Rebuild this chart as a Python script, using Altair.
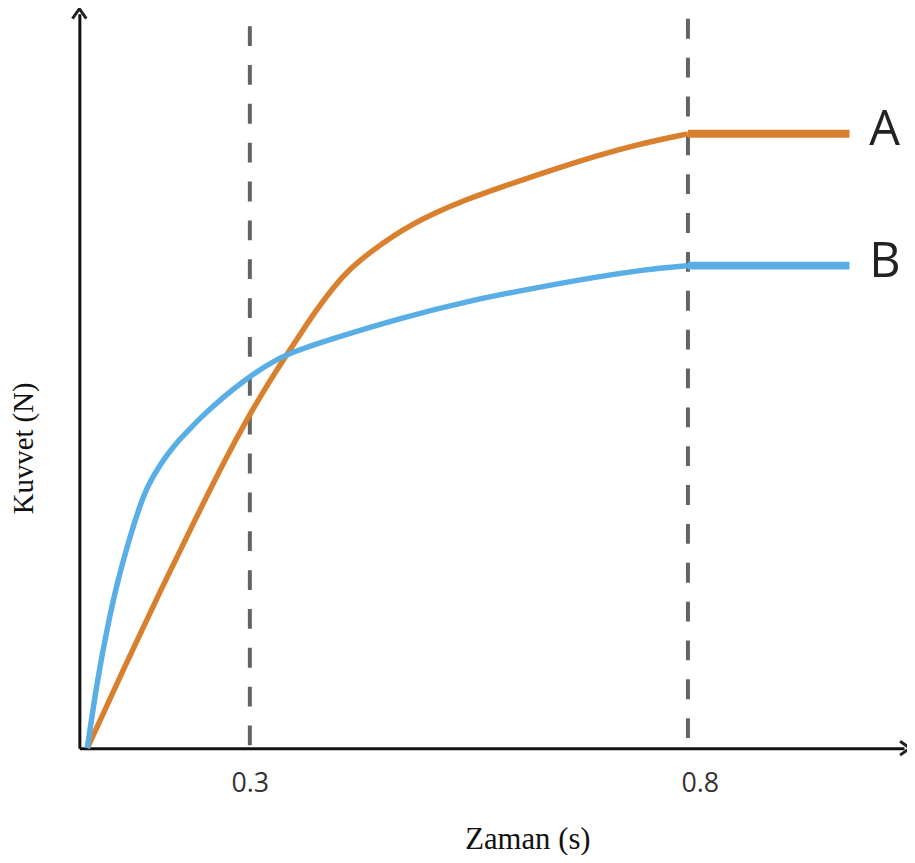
import altair as alt
import pandas as pd

# ---- data ----
a_t = [0.0, 0.0732, 0.1335, 0.1957, 0.2561, 0.3, 0.3204, 0.343, 0.36, 0.377, 0.395, 0.4143,
       0.4391, 0.464, 0.4866, 0.5093, 0.5466, 0.5839, 0.6597, 0.7355, 0.8]
a_f = [0.0, 11.8, 21.3, 30.7, 39.7, 45.6, 49.7, 53.9, 57.0, 60.0, 62.9, 65.5,
       67.9, 70.0, 71.6, 73.0, 74.9, 76.5, 79.6, 82.3, 83.9]
b_t = [0.0, 0.0183, 0.0366, 0.0549, 0.0732, 0.097, 0.1134, 0.1335, 0.15, 0.1646, 0.1866, 0.214,
       0.2506, 0.2872, 0.3204, 0.343, 0.3962, 0.4708, 0.5466, 0.6224, 0.6971, 0.7536, 0.8]
b_f = [0.0, 9.2, 16.4, 22.5, 27.5, 33.2, 36.1, 38.6, 40.3, 41.7, 43.4, 45.5,
       47.9, 50.1, 52.4, 53.9, 56.0, 58.7, 61.0, 62.8, 64.4, 65.4, 65.9]
t_end = 1.0
series_names = ["A", "B"]
marker_t = [0.3, 0.8]
marker_top = [98.6, 99.6]
x_title = "Zaman (s)"
y_title = "Kuvvet (N)"

curve_df = pd.concat([
    pd.DataFrame({"t": a_t, "f": a_f, "s": "A"}),
    pd.DataFrame({"t": b_t, "f": b_f, "s": "B"}),
])
flat_df = pd.DataFrame({
    "t": [a_t[-1], t_end, b_t[-1], t_end],
    "f": [a_f[-1], a_f[-1], b_f[-1], b_f[-1]],
    "s": ["A", "A", "B", "B"],
})
label_df = pd.DataFrame({"t": [t_end, t_end], "f": [a_f[-1], b_f[-1]], "s": series_names})
marker_df = pd.DataFrame({"t": marker_t, "top": marker_top, "bottom": [0, 0]})
arrow_df = pd.DataFrame({"k": [0]})

W, H = 832, 741
xscale = alt.Scale(domain=[-0.0146, 0.0, 0.3, 0.8, 1.0, 1.0675],
                   range=[0, 8, 172, 614, 777, 832], zero=False, nice=False)
yscale = alt.Scale(domain=[0, 100.3], zero=False, nice=False)

xaxis = alt.Axis(
    values=marker_t, format=".1f", grid=False, ticks=False, tickSize=0,
    domain=True, domainColor="#111111", domainWidth=3,
    labelFont="Open Sans", labelFontSize=27, labelColor="#333333",
    labelBaseline="alphabetic", labelPadding=44,
    labelOffset={"condition": {"test": "datum.value == 0.8", "value": 12}, "value": 0},
    title=x_title, titleFont="Liberation Serif", titleFontSize=31, titleFontWeight="normal",
    titleColor="#111111", titleX=452, titleY=101, titleBaseline="alphabetic", titleAlign="center",
)
yaxis = alt.Axis(
    values=[], grid=False, ticks=False, labels=False, domain=True,
    domainColor="#111111", domainWidth=3,
    title=y_title, titleFont="Liberation Serif", titleFontSize=29, titleFontWeight="normal",
    titleColor="#111111", titleX=-56, titleY=438, titleAngle=-90, titleBaseline="middle",
    titleAlign="center",
)

base_x = alt.X("t:Q", scale=xscale, axis=xaxis)
base_y = alt.Y("f:Q", scale=yscale, axis=yaxis)

colors_curve = alt.Scale(domain=series_names, range=["#D9802F", "#5AAEE6"])
colors_flat = alt.Scale(domain=series_names, range=["#DF9551", "#5B9BD5"])

curves = alt.Chart(curve_df).mark_line(strokeWidth=5.5, clip=False, interpolate="basis").encode(
    x=base_x, y=base_y,
    color=alt.Color("s:N", scale=colors_curve, legend=None),
    detail="s:N",
)
flats = alt.Chart(flat_df).mark_line(strokeWidth=8, clip=False).encode(
    x=alt.X("t:Q", scale=xscale), y=alt.Y("f:Q", scale=yscale),
    color=alt.Color("s:N", scale=colors_flat, legend=None),
    detail="s:N",
)
markers = alt.Chart(marker_df).mark_rule(
    color="#636363", strokeWidth=4, strokeDash=[20, 19.2]
).encode(
    x=alt.X("t:Q", scale=xscale),
    y=alt.Y("top:Q", scale=yscale),
    y2="bottom:Q",
)
labels = alt.Chart(label_df).mark_text(
    align="left", baseline="middle", dx=20, dy=-4,
    font="Open Sans", fontSize=49, color="#222222",
).encode(
    x=alt.X("t:Q", scale=xscale), y=alt.Y("f:Q", scale=yscale), text="s:N",
)
up_arrow = alt.Chart(arrow_df).mark_point(
    shape="M -0.7 1 L 0 0 L 0.7 1", filled=False, size=400, yOffset=-5,
    stroke="#222222", strokeWidth=3, opacity=1,
).encode(x=alt.value(0), y=alt.value(0))
right_arrow = alt.Chart(arrow_df).mark_point(
    shape="M -1 -0.7 L 0 0 L -1 0.7", filled=False, size=400, xOffset=6,
    stroke="#222222", strokeWidth=3, opacity=1,
).encode(x=alt.value("width"), y=alt.value("height"))

chart = alt.layer(markers, curves, flats, labels, up_arrow, right_arrow).properties(
    width=W, height=H,
    padding={"left": 72, "top": 2, "right": 3, "bottom": 104},
    autosize=alt.AutoSizeParams(type="none"),
).configure(background="white").configure_view(stroke=None)

chart.save("out.html", embed_options={"renderer": "svg", "actions": False})
